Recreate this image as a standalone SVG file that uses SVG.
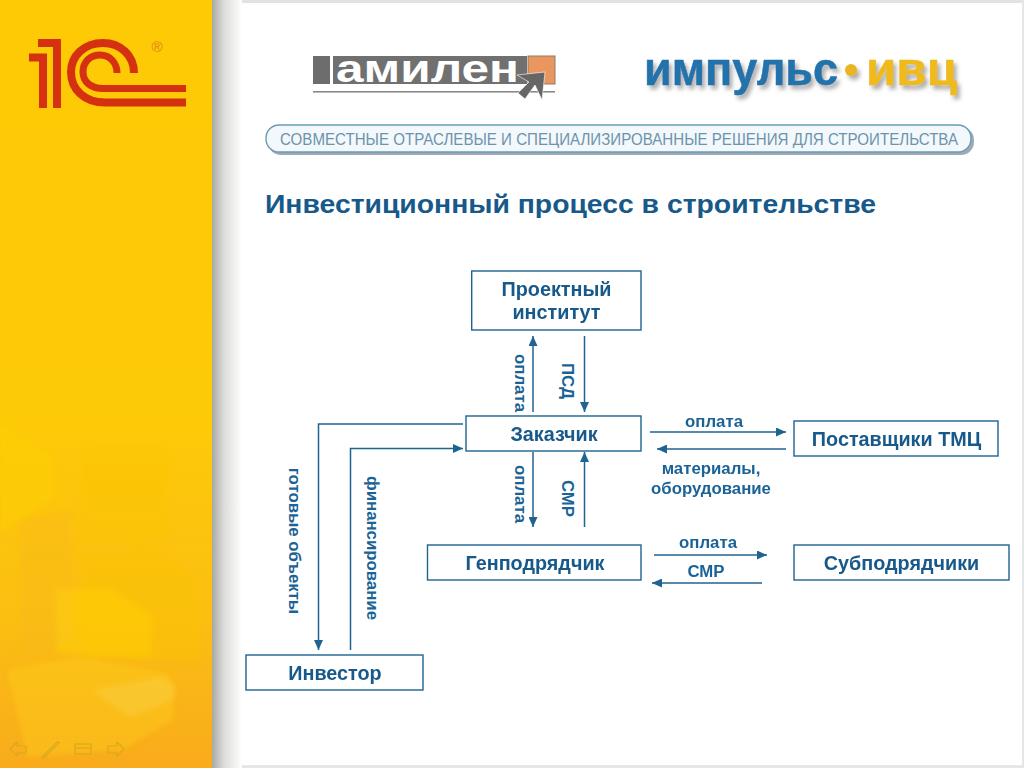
<svg xmlns="http://www.w3.org/2000/svg" width="1024" height="768" viewBox="0 0 1024 768">
<style>
.n{fill:#fff;stroke:#1f6391;stroke-width:1.4}
.nt{font:bold 19.8px "Liberation Sans",Arial,sans-serif;fill:#17598a;text-anchor:middle}
.lb{font:bold 16.8px "Liberation Sans",Arial,sans-serif;fill:#1b6396;text-anchor:middle}
.c{fill:none;stroke:#1f6391;stroke-width:1.5}
.r{fill:none;stroke:#d5300f;stroke-linejoin:miter}
.bl{opacity:.38}
</style>
<defs>
<linearGradient id="y" x1="0" y1="0" x2="0" y2="1"><stop offset="0" stop-color="#fec905"/><stop offset=".55" stop-color="#fdca08"/><stop offset=".8" stop-color="#fbbf12"/><stop offset="1" stop-color="#f9ab1c"/></linearGradient>
<linearGradient id="s" x1="0" y1="0" x2="1" y2="0"><stop offset="0" stop-color="#a8a8a4"/><stop offset=".4" stop-color="#dcdcda"/><stop offset="1" stop-color="#fff"/></linearGradient>
<filter id="b1" x="-20%" y="-20%" width="140%" height="140%"><feGaussianBlur stdDeviation="2.5"/></filter>
<filter id="ds" x="-5%" y="-20%" width="115%" height="150%"><feDropShadow dx="3" dy="4" stdDeviation="2" flood-color="#777" flood-opacity=".6"/></filter>
<marker id="a" markerWidth="11" markerHeight="9" refX="10" refY="4.5" orient="auto" markerUnits="userSpaceOnUse"><path d="M0 0L10 4.5L0 9Z" fill="#1f6391"/></marker>
</defs>

<g id="background">
<rect width="1024" height="768" fill="#fff"/>
<rect width="1024" height="3" fill="#e2e2e2"/>
<rect x="1022" width="2" height="768" fill="#e6e6e6"/>
<rect y="765" x="212" width="812" height="3" fill="#e6e6e6"/>
<rect x="212" width="30" height="768" fill="url(#s)"/>
<rect x="0" y="0" width="212" height="768" fill="url(#y)"/>
<g filter="url(#b1)">
<path class="bl" d="M0 423L53 457L55 497L0 533Z" fill="#fdd206"/>
<path class="bl" d="M83 450H167V535L120 552H83Z" fill="#fbc40e"/>
<path class="bl" d="M20 520L73 510V640L20 665Z" fill="#f8b712"/>
<path class="bl" d="M82 543H150L200 580V660H82Z" fill="#fac30e"/>
<path class="bl" d="M55 590H113L152 617L150 657L57 653Z" fill="#ffd808"/>
<path class="bl" d="M7 670L77 657L167 673L175 687L173 720L123 750L27 757Z" fill="#fcd01a"/>
<path class="bl" d="M93 690L163 677L175 687L172 700L130 717Z" fill="#fbd350"/>
</g>
</g>

<g id="logo-1c">
<path class="r" stroke-width="8" d="M29 57.5H43V108"/>
<path class="r" stroke-width="8" d="M38 43H57V108"/>
<path class="r" stroke-width="8" d="M134 73C134 55 120 43 103 43C84 43 71 56 71 72C71 90 85 102.5 105 102.5H186"/>
<path class="r" stroke-width="7" d="M117 73C117 63 110 55 100 55C90 55 83 62 83 72C83 82 91 88.5 103 88.5H186"/>
<text x="157" y="52" font-family="'Liberation Sans',Arial,sans-serif" font-size="15" fill="#dc8414" text-anchor="middle">®</text>
</g>

<g id="logo-amilen">
<rect x="313" y="56" width="17" height="28" fill="#6d6d6d"/>
<rect x="333" y="56" width="194" height="28" fill="#707070"/>
<rect x="528" y="56" width="27" height="28" fill="#e9975f" stroke="#8d7a6a" stroke-width="1"/>
<text x="336" y="82" font-family="'Liberation Sans',Arial,sans-serif" font-weight="bold" font-size="38" fill="#fff" textLength="183" lengthAdjust="spacingAndGlyphs">амилен</text>
<rect x="313" y="91" width="242" height="1.6" fill="#8a8a8a"/>
<path d="M517 75L545 72L542 100L535 85L525 99L518 93L529 82Z" fill="#666" stroke="#fff" stroke-width=".6"/>
</g>

<g id="logo-impuls" filter="url(#ds)">
<text x="644" y="85" font-family="'Liberation Sans',Arial,sans-serif" font-weight="bold" font-size="47" fill="#2472ab" stroke="#2472ab" stroke-width=".5" textLength="194" lengthAdjust="spacingAndGlyphs">импульс</text>
<circle cx="851" cy="70" r="6" fill="#e8b620"/>
<text x="866" y="85" font-family="'Liberation Sans',Arial,sans-serif" font-weight="bold" font-size="47" fill="#efba1e" stroke="#efba1e" stroke-width=".5" textLength="91" lengthAdjust="spacingAndGlyphs">ивц</text>
</g>

<g id="slogan">
<rect x="268" y="127" width="706" height="28" rx="13" fill="#7d8d9c" opacity=".75"/>
<rect x="266" y="125" width="705" height="27" rx="13" fill="#f2f8fb" stroke="#6b9bb5" stroke-width="1.4"/>
<text x="619" y="145" font-family="'Liberation Sans',Arial,sans-serif" font-size="16.5" fill="#6d93ab" text-anchor="middle" textLength="678" lengthAdjust="spacingAndGlyphs">СОВМЕСТНЫЕ ОТРАСЛЕВЫЕ И СПЕЦИАЛИЗИРОВАННЫЕ РЕШЕНИЯ ДЛЯ СТРОИТЕЛЬСТВА</text>
</g>

<text id="title" x="265" y="213" font-family="'Liberation Sans',Arial,sans-serif" font-weight="bold" font-size="26" fill="#17598a" textLength="611" lengthAdjust="spacingAndGlyphs">Инвестиционный процесс в строительстве</text>

<g id="connectors">
<path class="c" marker-end="url(#a)" d="M533 412V336"/>
<path class="c" marker-end="url(#a)" d="M584.5 336V412"/>
<path class="c" marker-end="url(#a)" d="M533 452V527"/>
<path class="c" marker-end="url(#a)" d="M584.5 527V452"/>
<path class="c" marker-end="url(#a)" d="M463 424H318.5V650"/>
<path class="c" marker-end="url(#a)" d="M350.5 650V448.5H463"/>
<path class="c" marker-end="url(#a)" d="M650 432H786"/>
<path class="c" marker-end="url(#a)" d="M786 449H657"/>
<path class="c" marker-end="url(#a)" d="M654 555H767"/>
<path class="c" marker-end="url(#a)" d="M762 583H652"/>
<text class="lb" transform="translate(515 383) rotate(90)">оплата</text>
<text class="lb" transform="translate(562 381) rotate(90)">ПСД</text>
<text class="lb" transform="translate(515 494) rotate(90)">оплата</text>
<text class="lb" transform="translate(562 498.5) rotate(90)">СМР</text>
<text class="lb" transform="translate(289 541) rotate(90)">готовые объекты</text>
<text class="lb" transform="translate(367 548) rotate(90)">финансирование</text>
<text class="lb" x="714" y="427">оплата</text>
<text class="lb" x="711" y="474">материалы,</text>
<text class="lb" x="711" y="494">оборудование</text>
<text class="lb" x="708" y="548">оплата</text>
<text class="lb" x="706" y="577">СМР</text>
</g>

<g id="node-institute"><rect class="n" x="471.7" y="271" width="169.3" height="59"/><text class="nt" x="556.5" y="296">Проектный</text><text class="nt" x="556.5" y="319">институт</text></g>
<g id="node-customer"><rect class="n" x="466" y="416" width="175" height="35"/><text class="nt" x="554" y="441">Заказчик</text></g>
<g id="node-general"><rect class="n" x="427.5" y="545" width="213.5" height="35"/><text class="nt" x="535" y="570">Генподрядчик</text></g>
<g id="node-investor"><rect class="n" x="246" y="655" width="177" height="35"/><text class="nt" x="335" y="680">Инвестор</text></g>
<g id="node-suppliers"><rect class="n" x="794" y="421" width="204" height="35"/><text class="nt" x="896.5" y="446">Поставщики ТМЦ</text></g>
<g id="node-subs"><rect class="n" x="794" y="545" width="215" height="35"/><text class="nt" x="901.5" y="570">Субподрядчики</text></g>

<g id="nav" fill="none" stroke="#d9a820" stroke-width="1.2">
<path d="M10 749L17 742V746H26V753H17V756Z"/>
<path d="M42 757L57 742L59 743L44 758Z"/>
<rect x="75" y="744" width="16" height="10"/><path d="M75 748H91"/>
<path d="M124 749L117 742V746H108V753H117V756Z"/>
</g>
</svg>
